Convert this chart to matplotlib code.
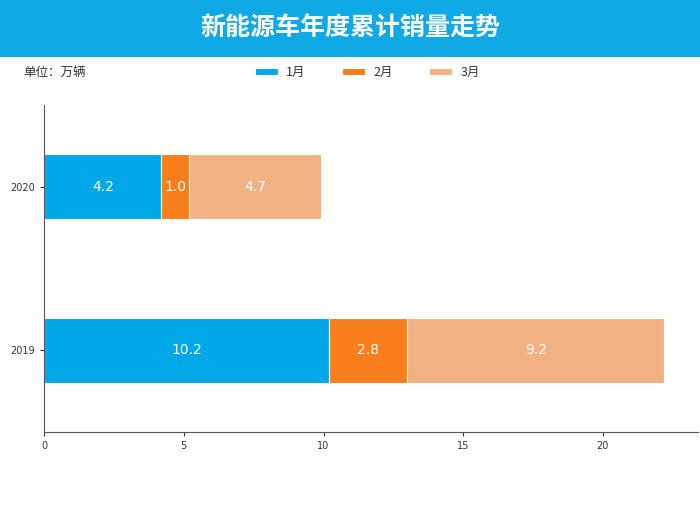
import matplotlib
matplotlib.use("Agg")
import matplotlib.pyplot as plt
from matplotlib.patches import Rectangle
import numpy as np

plt.rcParams['font.family'] = ['Noto Sans CJK SC', 'DejaVu Sans']

years = ["2019", "2020"]
months = ["1月", "2月", "3月"]
jan = [10.2, 4.2]
feb = [2.8, 1.0]
mar = [9.2, 4.7]
colors = ["#00a8ea", "#fb7e1d", "#f2b183"]
title = "新能源车年度累计销量走势"
unit = "单位：万辆"

fig = plt.figure(figsize=(7, 5.25), dpi=100)
fig.add_artist(Rectangle((0, 0.891), 1, 0.109, transform=fig.transFigure,
                         facecolor="#0fa9e6", edgecolor="none", zorder=0))
fig.text(0.5, 0.945, title, color="white", fontsize=18, fontweight="bold",
         ha="center", va="center")
fig.text(0.033, 0.862, unit, fontsize=9, color="#333333", ha="left", va="center")

ax = fig.add_axes([0.063, 0.177, 0.934, 0.623])
y = np.arange(len(years))
left = np.zeros(len(years))
series = [jan, feb, mar]
for name, vals, c in zip(months, series, colors):
    ax.barh(y, vals, left=left, height=0.4, color=c, edgecolor="white",
            linewidth=0.8, label=name)
    for yi, l, v in zip(y, left, vals):
        ax.text(l + v / 2, yi, f"{v:.1f}", color="white", fontsize=10,
                ha="center", va="center", family="DejaVu Sans")
    left = left + np.array(vals)

ax.set_yticks(y)
ax.set_yticklabels(years)
ax.set_xlim(0, 23.4)
ax.set_ylim(-0.5, 1.5)
ax.set_xticks([0, 5, 10, 15, 20])
ax.tick_params(labelsize=7, colors="#333333", length=3)
for lab in ax.get_xticklabels() + ax.get_yticklabels():
    lab.set_family("DejaVu Sans")
for s in ["top", "right"]:
    ax.spines[s].set_visible(False)
for s in ["left", "bottom"]:
    ax.spines[s].set_color("#555555")

leg = fig.legend(loc="center", bbox_to_anchor=(0.525, 0.862), ncol=3, frameon=False,
                 fontsize=9, handlelength=1.8, handleheight=0.55, columnspacing=2.9,
                 handletextpad=0.7)
for t in leg.get_texts():
    t.set_color("#333333")

fig.savefig("out.png", dpi=100)
